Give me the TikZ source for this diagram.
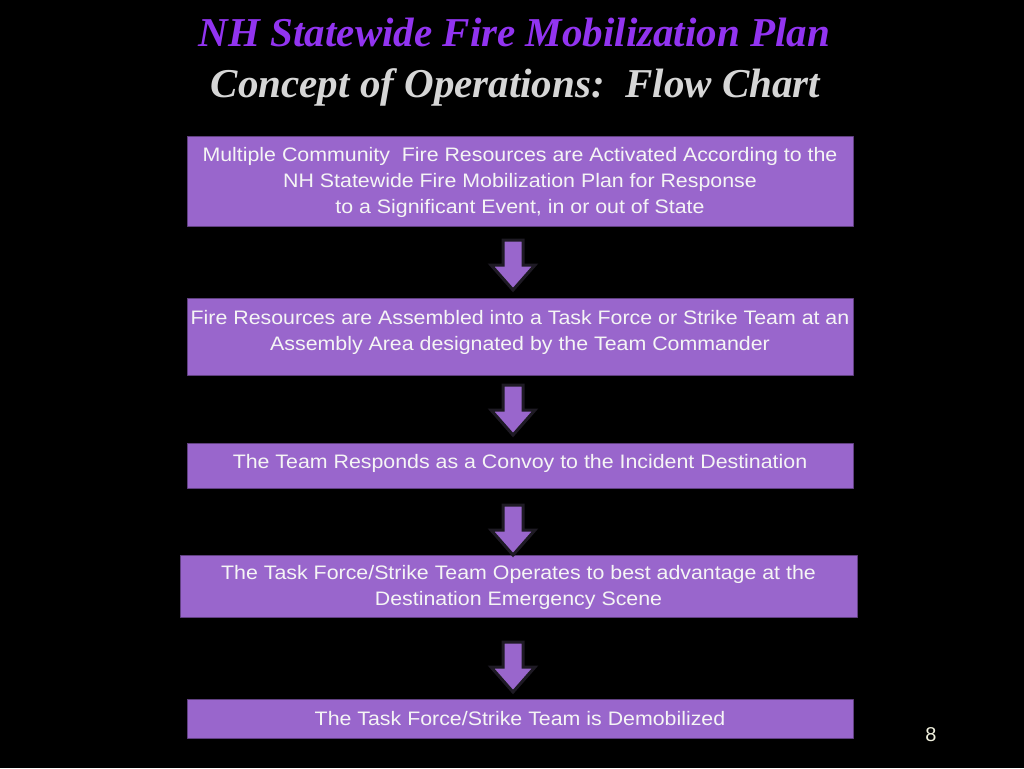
\documentclass[tikz,border=0pt]{standalone}
\usepackage{fontspec}
\setmainfont{Liberation Sans}
\newfontfamily\titlefont{Liberation Serif}
\newfontfamily\boxfont[FakeStretch=1.095]{Liberation Sans}
\definecolor{boxfill}{RGB}{153,102,204}
\definecolor{boxedge}{RGB}{96,64,128}
\definecolor{arrowedge}{RGB}{30,26,36}
\definecolor{titlepurple}{RGB}{146,52,240}
\definecolor{titlegray}{RGB}{214,214,214}
\definecolor{pagecol}{RGB}{240,240,222}
\begin{document}
\begin{tikzpicture}[x=1pt, y=-1pt, line join=round,
  stepbox/.style={draw=boxedge, fill=boxfill, line width=1pt, text=white!96!black,
    align=center, inner sep=0pt, minimum width=666pt,
    font=\boxfont\fontsize{19.5}{26}\selectfont},
  flowarrow/.style={fill=boxfill, draw=arrowedge, line width=3pt, line join=miter},
  heading/.style={anchor=base, font=\titlefont\bfseries\itshape\fontsize{41}{48}\selectfont}]
\fill[black] (0,0) rectangle (1024,768);
% title
\node[heading, text=titlepurple] (title) at (514.5,47) {NH Statewide Fire Mobilization Plan};
\node[heading, text=titlegray] (subtitle) at (515.5,97) {Concept of Operations:\ \ Flow Chart};
% boxes
\node[stepbox, minimum height=90pt, text depth=2pt] (activate) at (520,181)
  {Multiple Community\ \ Fire Resources are Activated According to the\\
   NH Statewide Fire Mobilization Plan for Response\\
   to a Significant Event, in or out of State};
\node[stepbox, minimum height=77pt, text depth=13pt] (assemble) at (520,336.5)
  {Fire Resources are Assembled into a Task Force or Strike Team at an\\
   Assembly Area designated by the Team Commander};
\node[stepbox, minimum height=45pt, text depth=8pt] (convoy) at (520,465.5)
  {The Team Responds as a Convoy to the Incident Destination};
\node[stepbox, minimum height=62pt, minimum width=677pt, text depth=2pt] (operate) at (518.5,586)
  {The Task Force/Strike Team Operates to best advantage at the\\
   Destination Emergency Scene};
\node[stepbox, minimum height=39pt] (demob) at (520,718.5)
  {The Task Force/Strike Team is Demobilized};
% arrows
\foreach \y in {240,385,505,642}
  \draw[flowarrow] (503,\y) -- (523,\y) -- (523,\y+25) -- (535,\y+25)
    -- (513,\y+50) -- (491,\y+25) -- (503,\y+25) -- cycle;
\node[text=pagecol, font=\fontsize{20}{24}\selectfont] (page) at (931,735) {8};
\end{tikzpicture}
\end{document}
